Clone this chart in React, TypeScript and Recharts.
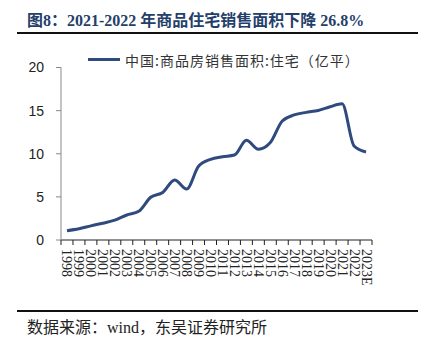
import React from 'react'
import { LineChart, Line, XAxis, YAxis } from 'recharts'

const years = [
  '1998', '1999', '2000', '2001', '2002', '2003', '2004', '2005', '2006',
  '2007', '2008', '2009', '2010', '2011', '2012', '2013', '2014', '2015',
  '2016', '2017', '2018', '2019', '2020', '2021', '2022', '2023E'
]

// 中国:商品房销售面积:住宅（亿平）
const salesArea = [
  1.08, 1.3, 1.64, 1.95, 2.3, 2.9, 3.33, 4.96, 5.5, 6.95, 5.9, 8.55, 9.35,
  9.65, 9.85, 11.57, 10.52, 11.3, 13.8, 14.5, 14.8, 15.02, 15.45, 15.8, 10.9, 10.2
]

const yTicks = [0, 5, 10, 15, 20]

const data = years.map((year, i) => ({ year, value: salesArea[i] }))

const lineColor = '#2e4a7e'
const plotLeft = 61
const plotRight = 372
const plotTop = 67.5
const plotBottom = 240
const band = (plotRight - plotLeft) / years.length

const XTick = (props: any) => {
  const { x, y, payload, index } = props
  const isLast = index === years.length - 1
  const axisY = plotBottom
  return (
    <g>
      <line x1={x - band / 2} y1={axisY} x2={x - band / 2} y2={axisY + 5} stroke="#222" />
      {isLast && <line x1={x + band / 2} y1={axisY} x2={x + band / 2} y2={axisY + 5} stroke="#222" />}
      <text
        transform={`translate(${x - 4.5},${axisY + 9}) rotate(90)`}
        textAnchor="start"
        fontSize={14}
        fontFamily="'Liberation Serif', serif"
        fill="#222"
      >
        {payload.value}
      </text>
    </g>
  )
}

export default function App() {
  return (
    <div style={{ position: 'absolute', left: 0, top: 0, width: 437, height: 349, background: '#fff' }}>
      <div
        style={{
          position: 'absolute',
          left: 27,
          top: 7,
          fontSize: 16,
          fontWeight: 'bold',
          color: '#24406a',
          fontFamily: "'Liberation Serif', 'Noto Sans CJK SC', serif",
          whiteSpace: 'nowrap'
        }}
      >
        图8：2021-2022 年商品住宅销售面积下降 26.8%
      </div>
      <div style={{ position: 'absolute', left: 17, top: 32, width: 401, height: 2, background: '#111' }} />

      {/* legend */}
      <div style={{ position: 'absolute', left: 88, top: 58, width: 32, height: 3, background: lineColor }} />
      <div
        style={{
          position: 'absolute',
          left: 125,
          top: 50,
          fontSize: 14,
          letterSpacing: 1,
          color: '#333',
          fontFamily: "'Noto Sans CJK SC', sans-serif",
          whiteSpace: 'nowrap',
          lineHeight: '20px'
        }}
      >
        中国:商品房销售面积:住宅（亿平）
      </div>

      <div style={{ position: 'absolute', left: 0, top: 0 }}>
        <LineChart
          width={437}
          height={349}
          data={data}
          margin={{ top: plotTop, right: 437 - plotRight, left: plotLeft - 40, bottom: 349 - plotBottom - 60 }}
        >
          <XAxis
            dataKey="year"
            interval={0}
            padding={{ left: band / 2, right: band / 2 }}
            tickLine={false}
            axisLine={{ stroke: '#222' }}
            tick={<XTick />}
            height={60}
          />
          <YAxis
            domain={[0, 20]}
            ticks={yTicks}
            width={40}
            tickSize={5}
            tickMargin={12}
            axisLine={{ stroke: '#888' }}
            tickLine={{ stroke: '#888' }}
            tick={{ fontSize: 14, fill: '#222', fontFamily: "'Liberation Sans', Arial, sans-serif" }}
          />
          <Line
            type="monotone"
            dataKey="value"
            stroke={lineColor}
            strokeWidth={3}
            dot={false}
            isAnimationActive={false}
          />
        </LineChart>
      </div>

      <div style={{ position: 'absolute', left: 17, top: 310, width: 401, height: 2, background: '#111' }} />
      <div
        style={{
          position: 'absolute',
          left: 27,
          top: 318,
          fontSize: 16,
          color: '#222',
          fontFamily: "'Liberation Serif', 'Noto Sans CJK SC', serif",
          whiteSpace: 'nowrap',
          lineHeight: '20px'
        }}
      >
        数据来源：wind，东吴证券研究所
      </div>
    </div>
  )
}
